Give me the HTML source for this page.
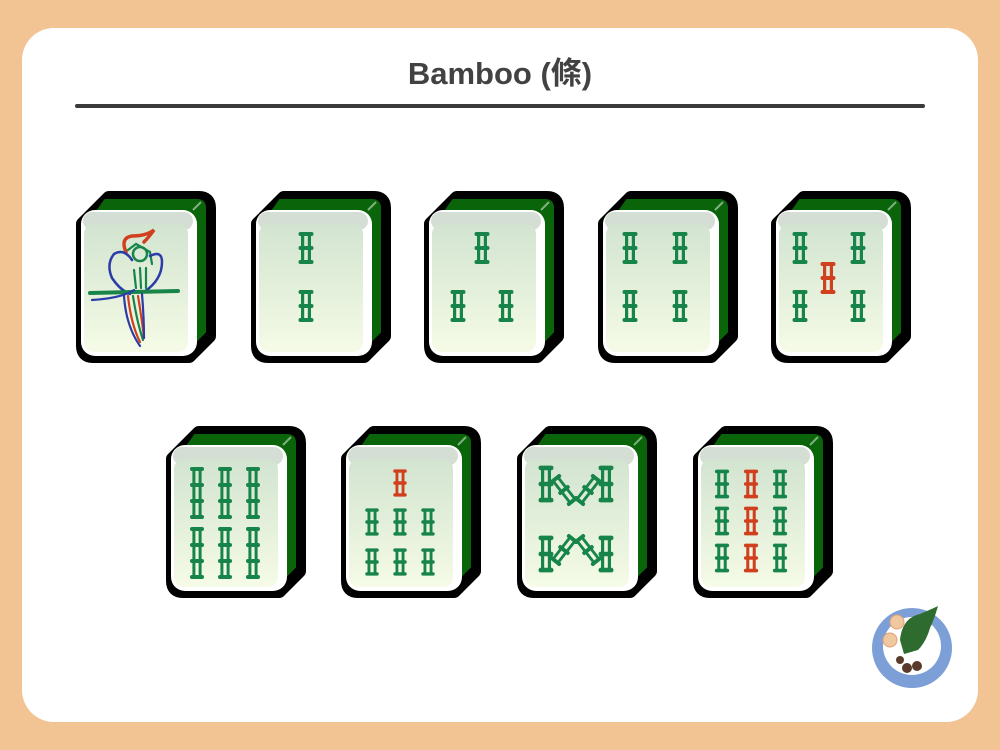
<!DOCTYPE html>
<html><head><meta charset="utf-8"><style>
html,body{margin:0;padding:0;width:1000px;height:750px;background:#f2c393;overflow:hidden}
.card{position:absolute;left:22px;top:28px;width:956px;height:694px;background:#fff;border-radius:32px}
.t{position:absolute;left:0;width:1000px;top:48px;text-align:center;font:bold 31px "Liberation Sans","Noto Sans CJK TC",sans-serif;color:#424242}
.line{position:absolute;left:75px;top:104px;width:850px;height:4px;background:#3a3a3a;border-radius:2px}
svg{position:absolute;left:0;top:0}
</style></head><body>
<div class="card"></div>
<div class="t">Bamboo (條)</div>
<div class="line"></div>
<svg width="1000" height="750" viewBox="0 0 1000 750">
<defs>
<linearGradient id="fg" x1="0" y1="0" x2="0" y2="1"><stop offset="0" stop-color="#d2e4d0"/><stop offset="1" stop-color="#f5fbe6"/></linearGradient>
<g id="tile">
 <path d="M8,34 L34,8 L124,8 Q134,8 134,18 L134,146 L114,166 L18,166 Q8,166 8,156 Z" fill="#000" stroke="#000" stroke-width="14" stroke-linejoin="round"/>
 <path d="M30,10 L122,10 Q130,10 130,18 L130,142 L118,154 L118,30 L16,30 Z" fill="#0a640a" stroke="#0a640a" stroke-width="2" stroke-linejoin="round"/>
 <path d="M118,20 L126,12" stroke="#7fb07f" stroke-width="2"/>
 <rect x="6" y="20" width="116" height="146" rx="14" fill="#fff"/>
 <rect x="8" y="22" width="110" height="18" rx="9" fill="#d5ded5"/>
 <rect x="9" y="34" width="104" height="128" rx="10" fill="url(#fg)"/>
</g>
<g id="s">
 <rect x="-7.5" y="-16" width="15" height="4" rx="2"/>
 <rect x="-7.5" y="-2" width="15" height="4" rx="2"/>
 <rect x="-7.5" y="12" width="15" height="4" rx="2"/>
 <rect x="-5" y="-14" width="3.2" height="28"/>
 <rect x="1.8" y="-14" width="3.2" height="28"/>
</g>
<g id="s3">
 <rect x="-7" y="-26" width="14" height="4" rx="2"/>
 <rect x="-7" y="-10" width="14" height="4" rx="2"/>
 <rect x="-7" y="6" width="14" height="4" rx="2"/>
 <rect x="-7" y="22" width="14" height="4" rx="2"/>
 <rect x="-4.6" y="-24" width="3" height="48"/>
 <rect x="1.6" y="-24" width="3" height="48"/>
</g>
</defs>
<g fill="#17844a">
<use href="#tile" x="75" y="190"/>
<use href="#tile" x="250" y="190"/>
<use href="#tile" x="423" y="190"/>
<use href="#tile" x="597" y="190"/>
<use href="#tile" x="770" y="190"/>
<use href="#tile" x="165" y="425"/>
<use href="#tile" x="340" y="425"/>
<use href="#tile" x="516" y="425"/>
<use href="#tile" x="692" y="425"/>

<use href="#s" x="306" y="248"/><use href="#s" x="306" y="306"/>
<use href="#s" x="482" y="248"/><use href="#s" x="458" y="306"/><use href="#s" x="506" y="306"/>
<use href="#s" x="630" y="248"/><use href="#s" x="680" y="248"/><use href="#s" x="630" y="306"/><use href="#s" x="680" y="306"/>
<use href="#s" x="800" y="248"/><use href="#s" x="858" y="248"/><use href="#s" x="800" y="306"/><use href="#s" x="858" y="306"/>
<use href="#s" x="828" y="278" fill="#d0401e"/>

<use href="#s3" x="197" y="493"/><use href="#s3" x="225" y="493"/><use href="#s3" x="253" y="493"/>
<use href="#s3" x="197" y="553"/><use href="#s3" x="225" y="553"/><use href="#s3" x="253" y="553"/>

<use href="#s" transform="translate(400,483) scale(0.9,0.85)" fill="#d0401e"/>
<use href="#s" transform="translate(372,522) scale(0.9,0.85)"/><use href="#s" transform="translate(400,522) scale(0.9,0.85)"/><use href="#s" transform="translate(428,522) scale(0.9,0.85)"/>
<use href="#s" transform="translate(372,562) scale(0.9,0.85)"/><use href="#s" transform="translate(400,562) scale(0.9,0.85)"/><use href="#s" transform="translate(428,562) scale(0.9,0.85)"/>

<use href="#s" transform="translate(546,484) scale(1,1.15)"/>
<use href="#s" transform="translate(606,484) scale(1,1.15)"/>
<use href="#s" transform="translate(546,554) scale(1,1.15)"/>
<use href="#s" transform="translate(606,554) scale(1,1.15)"/>
<use href="#s" transform="translate(564,490) rotate(-38) scale(0.9,1)"/>
<use href="#s" transform="translate(588,490) rotate(38) scale(0.9,1)"/>
<use href="#s" transform="translate(564,550) rotate(38) scale(0.9,1)"/>
<use href="#s" transform="translate(588,550) rotate(-38) scale(0.9,1)"/>

<use href="#s" transform="translate(722,484) scale(0.95,0.9)"/><use href="#s" transform="translate(751,484) scale(0.95,0.9)" fill="#d0401e"/><use href="#s" transform="translate(780,484) scale(0.95,0.9)"/>
<use href="#s" transform="translate(722,521) scale(0.95,0.9)"/><use href="#s" transform="translate(751,521) scale(0.95,0.9)" fill="#d0401e"/><use href="#s" transform="translate(780,521) scale(0.95,0.9)"/>
<use href="#s" transform="translate(722,558) scale(0.95,0.9)"/><use href="#s" transform="translate(751,558) scale(0.95,0.9)" fill="#d0401e"/><use href="#s" transform="translate(780,558) scale(0.95,0.9)"/>
</g>
<!-- bird -->
<g fill="none" stroke-linecap="round" stroke-width="2.2">
 <path d="M126,252 q-6,-14 6,-16 q14,0 22,-6 q-6,8 -10,12" stroke="#d0401e" stroke-width="3.5"/>
 <circle cx="140" cy="254" r="7" stroke="#17844a" stroke-width="2.5"/>
 <path d="M128,250 l8,-6 l14,8 l2,12" stroke="#17844a"/>
 <path d="M132,260 q-8,-12 -18,-6 q-8,10 -2,24 q8,12 18,16" stroke="#2a3ca8" stroke-width="2.5"/>
 <path d="M150,256 q12,-6 12,6 q0,18 -18,30" stroke="#2a3ca8" stroke-width="2.5"/>
 <path d="M90,293 l88,-2" stroke="#17844a" stroke-width="4"/>
 <path d="M92,300 q30,-2 42,-10" stroke="#2a3ca8"/>
 <path d="M124,296 q2,30 16,50" stroke="#2a3ca8"/>
 <path d="M128,296 q3,28 12,46" stroke="#d0401e"/>
 <path d="M133,296 q4,26 10,44" stroke="#17844a"/>
 <path d="M138,296 q4,24 6,42" stroke="#d0401e"/>
 <path d="M142,294 q2,24 2,44" stroke="#2a3ca8"/>
 <path d="M134,270 l2,18 M140,268 l1,20 M146,268 l0,20" stroke="#17844a"/>
</g>
<!-- logo -->
<circle cx="912" cy="648" r="40" fill="#7b9fd6"/>
<circle cx="912" cy="646" r="29" fill="#fff"/>
<path d="M900,640 q2,-22 20,-26 q14,-6 18,-8 q-4,14 -8,22 q-4,14 -12,22 l-14,4z" fill="#2e6b2e"/>
<circle cx="897" cy="622" r="7" fill="#f0c8a0" stroke="#e2a070"/>
<circle cx="890" cy="640" r="7" fill="#f0c8a0" stroke="#e2a070"/>
<circle cx="907" cy="668" r="5" fill="#5a3a2a"/><circle cx="917" cy="666" r="5" fill="#5a3a2a"/><circle cx="900" cy="660" r="4" fill="#5a3a2a"/>
</svg>
</body></html>
